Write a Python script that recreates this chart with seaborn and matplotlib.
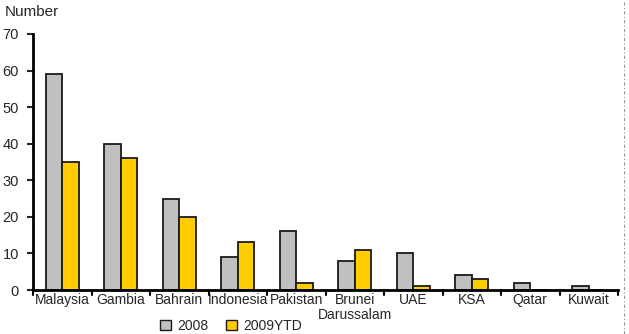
import matplotlib
matplotlib.use("Agg")
import matplotlib.pyplot as plt
import seaborn as sns
import pandas as pd
from matplotlib.lines import Line2D
from matplotlib.patches import Patch

categories = ["Malaysia", "Gambia", "Bahrain", "Indonesia", "Pakistan",
              "Brunei\nDarussalam", "UAE", "KSA", "Qatar", "Kuwait"]
values_2008 = [59, 40, 25, 9, 16, 8, 10, 4, 2, 1]
values_2009 = [35, 36, 20, 13, 2, 11, 1, 3, 0, 0]
series = ["2008", "2009YTD"]
yticks = [0, 10, 20, 30, 40, 50, 60, 70]

sns.set_style("white")
plt.rcParams['font.family'] = ['Liberation Sans', 'DejaVu Sans']

df = pd.DataFrame({
    "Country": categories * 2,
    "Series": [series[0]] * len(categories) + [series[1]] * len(categories),
    "Value": values_2008 + values_2009,
})

fig = plt.figure(figsize=(6.29, 3.34), dpi=100)
ax = fig.add_axes([33/629, 1-290/334, (618-33)/629, (290-34)/334])

palette = {"2008": "#C0C0C0", "2009YTD": "#FFCC00"}
sns.barplot(data=df, x="Country", y="Value", hue="Series", palette=palette,
            width=0.56, edgecolor="#1a1a1a", linewidth=1.3, ax=ax, legend=False,
            saturation=1)

ax.set_xlim(-0.5, len(categories) - 0.5)
ax.set_ylim(0, 70)
ax.set_yticks(yticks)
ax.set_yticklabels([str(t) for t in yticks], fontsize=10.5)
ax.set_xticks(range(len(categories)))
ax.set_xticklabels(categories, fontsize=10, linespacing=1.1)
ax.tick_params(axis='x', length=0, pad=2)
ax.tick_params(axis='y', length=4, width=1.5, direction='out', pad=6, left=True)
for i in range(len(categories) + 1):
    ax.plot([i - 0.5, i - 0.5], [0, -1.3], color="black", lw=1.5, clip_on=False)
ax.set_xlabel("")
ax.set_ylabel("")
for s in ["top", "right"]:
    ax.spines[s].set_visible(False)
ax.spines["left"].set_linewidth(2)
ax.spines["bottom"].set_linewidth(2)
ax.spines["left"].set_color("black")
ax.spines["bottom"].set_color("black")

fig.text(5/629, 1-12/334, "Number", fontsize=11, va="center", ha="left")

handles = [Patch(facecolor=palette[s], edgecolor="#1a1a1a", linewidth=1) for s in series]
fig.legend(handles, series, loc="center", bbox_to_anchor=(231/629, 1-326/334),
           ncol=2, frameon=False, fontsize=10, handlelength=0.8, handleheight=0.8,
           handletextpad=0.5, columnspacing=1.2, borderpad=0)

fig.add_artist(Line2D([624/629, 624/629], [0, 1], transform=fig.transFigure,
                      color="#999999", lw=0.8, linestyle=(0, (3, 2, 1, 2))))

fig.savefig("out.png", dpi=100)
